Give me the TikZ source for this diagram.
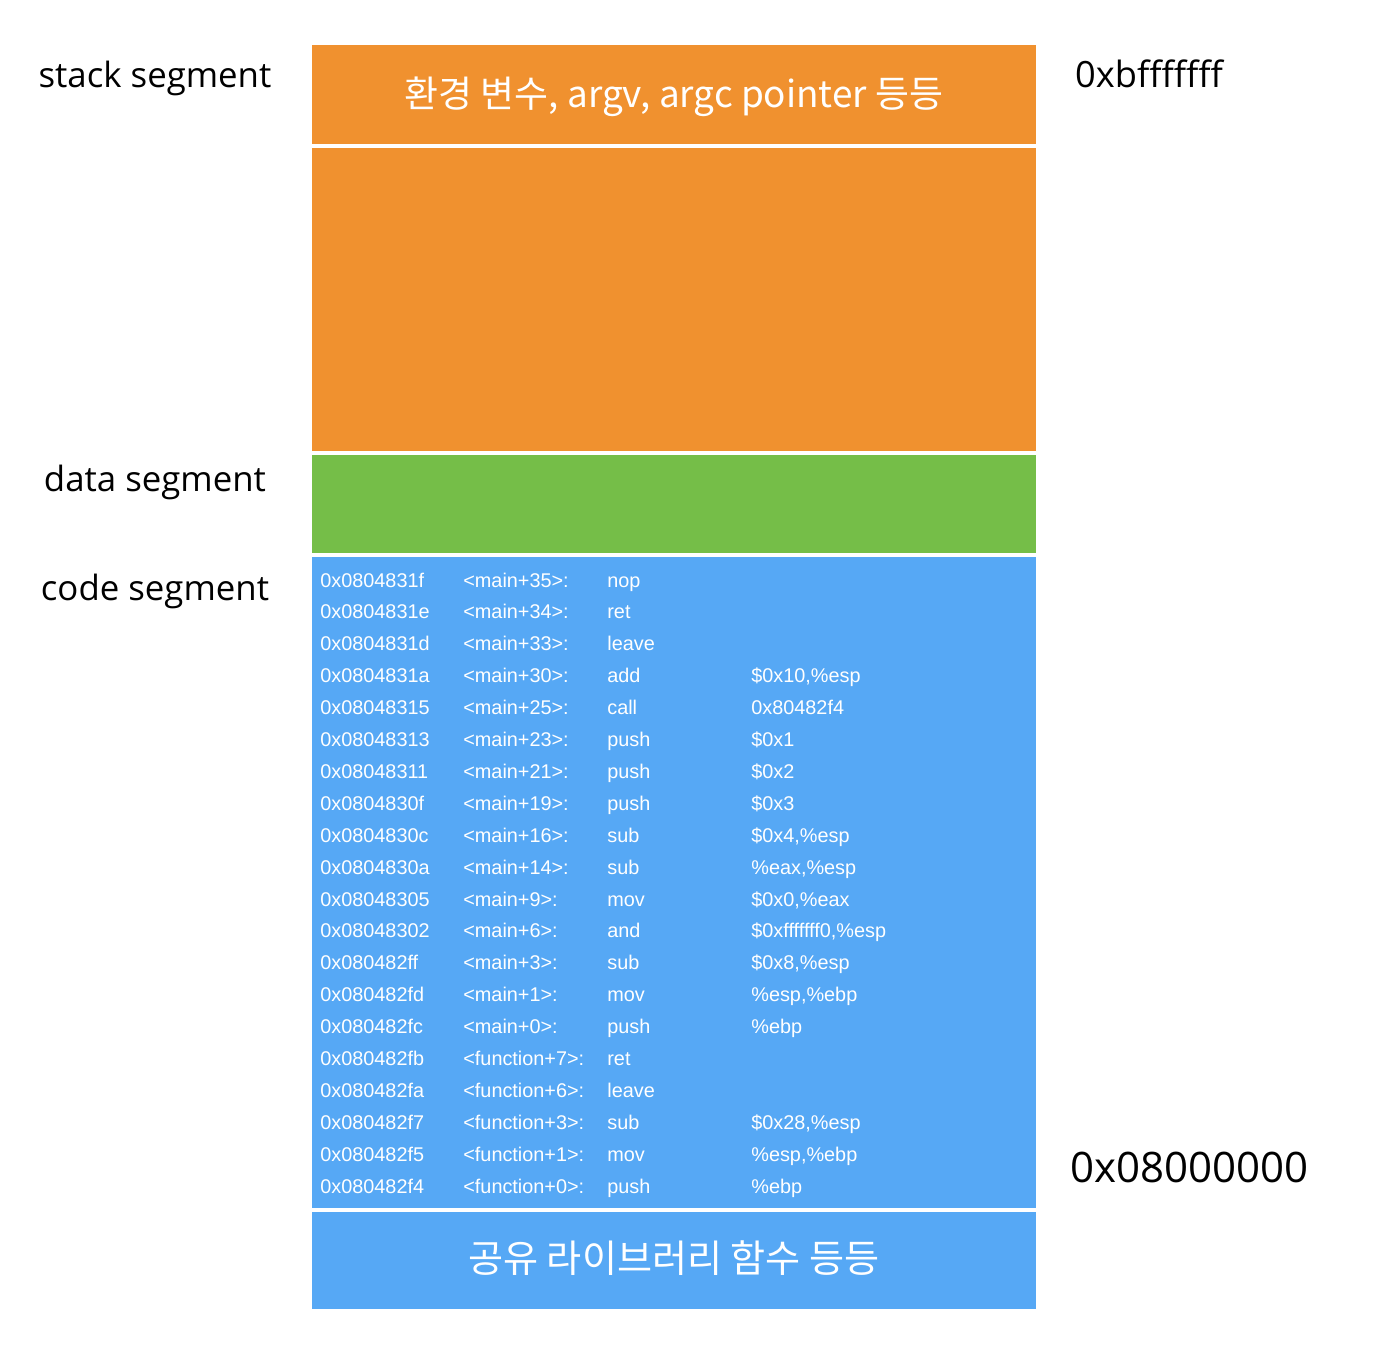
\documentclass[tikz,border=0pt]{standalone}
\usepackage{fontspec}
\setmainfont{Open Sans}
\newfontfamily\kofont{Noto Sans CJK KR}
\newfontfamily\codefont{Liberation Sans}
\definecolor{stackorange}{HTML}{F0912F}
\definecolor{datagreen}{HTML}{75BE48}
\definecolor{codeblue}{HTML}{56A8F5}
\tikzset{
  seglabel/.style={anchor=base,font=\fontsize{19.8}{22}\selectfont},
  addrlabel/.style={anchor=base west},
  boxtext/.style={anchor=base,text=white,font=\kofont\fontsize{21}{26}\selectfont},
  asm/.style={anchor=base west,inner sep=0pt,text=white,font=\codefont\fontsize{11.3}{13}\selectfont}
}
\begin{document}
\begin{tikzpicture}[x=0.02cm,y=-0.02cm]
\useasboundingbox (0,0) rectangle (1390,1352);
\fill[white] (0,0) rectangle (1390,1352);
% segments
\fill[stackorange] (312,45) rectangle (1036,144);
\fill[stackorange] (312,148) rectangle (1036,451);
\fill[datagreen] (312,455) rectangle (1036,553);
\fill[codeblue] (312,557) rectangle (1036,1208);
\fill[codeblue] (312,1212) rectangle (1036,1309);
\node[boxtext] (env) at (674,107) {환경 변수, argv, argc pointer 등등};
\node[boxtext,font=\kofont\fontsize{21.7}{26}\selectfont] (lib) at (674,1272) {공유 라이브러리 함수 등등};
% left labels
\node[seglabel] (stack) at (155,87) {stack segment};
\node[seglabel] (data) at (155,491) {data segment};
\node[seglabel] (code) at (155,600) {code segment};
% addresses
\node[addrlabel,font=\fontsize{20.6}{22}\selectfont] (top) at (1069,87) {0xbfffffff};
\node[addrlabel,font=\fontsize{23.9}{26}\selectfont] (bottom) at (1064,1182) {0x08000000};
% code listing
\foreach \adr/\lab/\ins/\opd [count=\i from 0] in {
  0x0804831f/main+35/nop/,
  0x0804831e/main+34/ret/,
  0x0804831d/main+33/leave/,
  0x0804831a/main+30/add/{\$0x10,\%esp},
  0x08048315/main+25/call/0x80482f4,
  0x08048313/main+23/push/\$0x1,
  0x08048311/main+21/push/\$0x2,
  0x0804830f/main+19/push/\$0x3,
  0x0804830c/main+16/sub/{\$0x4,\%esp},
  0x0804830a/main+14/sub/{\%eax,\%esp},
  0x08048305/main+9/mov/{\$0x0,\%eax},
  0x08048302/main+6/and/{\$0xfffffff0,\%esp},
  0x080482ff/main+3/sub/{\$0x8,\%esp},
  0x080482fd/main+1/mov/{\%esp,\%ebp},
  0x080482fc/main+0/push/\%ebp,
  0x080482fb/function+7/ret/,
  0x080482fa/function+6/leave/,
  0x080482f7/function+3/sub/{\$0x28,\%esp},
  0x080482f5/function+1/mov/{\%esp,\%ebp},
  0x080482f4/function+0/push/\%ebp}
{
  \node[asm] (a\i) at (320,587+31.9*\i) {\adr};
  \node[asm] (l\i) at (463,587+31.9*\i) {<\lab>:};
  \node[asm] (n\i) at (607,587+31.9*\i) {\ins};
  \node[asm] (o\i) at (751,587+31.9*\i) {\opd};
}
\end{tikzpicture}
\end{document}
